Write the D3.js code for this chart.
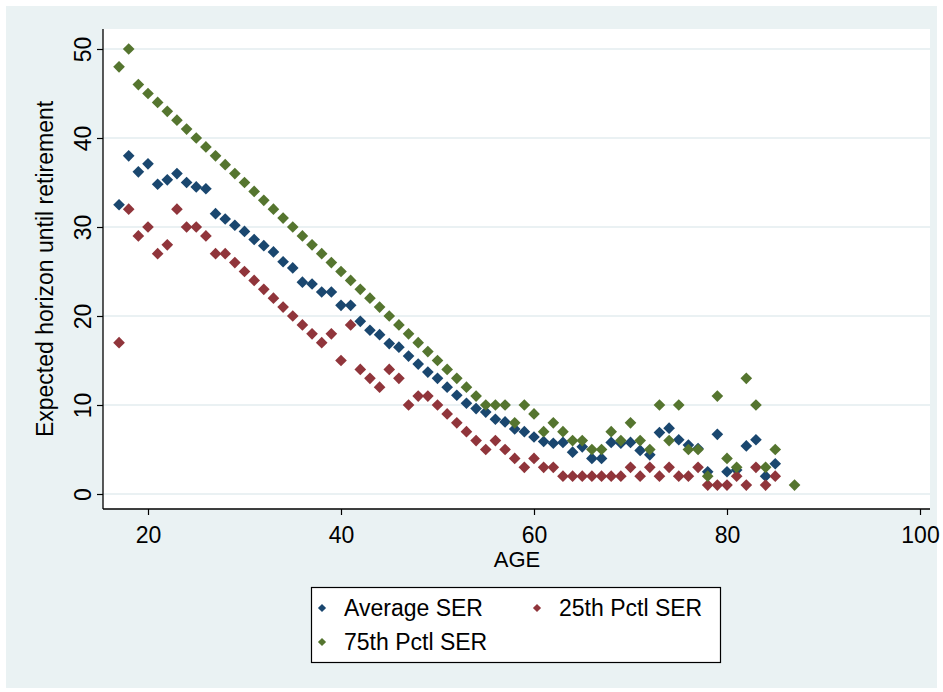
<!DOCTYPE html>
<html>
<head>
<meta charset="utf-8">
<script src="https://cdn.jsdelivr.net/npm/d3@7"></script>
<style>
  body { margin: 0; background: #ffffff; }
  svg { display: block; }
  text { font-family: "Liberation Sans", Arial, sans-serif; fill: #000; }
</style>
</head>
<body>
<svg id="chart" width="943" height="692"></svg>
<script>
// Age of respondent (x axis)
const ages = [17, 18, 19, 20, 21, 22, 23, 24, 25, 26, 27, 28, 29, 30, 31, 32, 33, 34, 35, 36,
              37, 38, 39, 40, 41, 42, 43, 44, 45, 46, 47, 48, 49, 50, 51, 52, 53, 54, 55, 56,
              57, 58, 59, 60, 61, 62, 63, 64, 65, 66, 67, 68, 69, 70, 71, 72, 73, 74, 75, 76,
              77, 78, 79, 80, 81, 82, 83, 84, 85, 86, 87];

// Average subjective expected retirement horizon
const averageSER = [32.5, 38.0, 36.2, 37.1, 34.8, 35.3, 36.0, 35.0, 34.5, 34.3,
                    31.5, 30.9, 30.2, 29.5, 28.6, 27.9, 27.2, 26.1, 25.4, 23.8,
                    23.6, 22.7, 22.7, 21.2, 21.2, 19.4, 18.4, 17.9, 16.9, 16.5,
                    15.5, 14.6, 13.7, 13.0, 12.0, 11.1, 10.2, 9.6, 9.2, 8.4,
                    8.1, 7.3, 7.0, 6.4, 5.9, 5.7, 5.8, 4.7, 5.3, 4.0,
                    4.0, 5.8, 5.7, 5.8, 4.9, 4.4, 6.9, 7.4, 6.1, 5.5,
                    5.1, 2.5, 6.7, 2.5, 2.7, 5.4, 6.1, 2.0, 3.4, null, null];

// 25th percentile
const pctl25SER = [17, 32, 29, 30, 27, 28, 32, 30, 30, 29,
                   27, 27, 26, 25, 24, 23, 22, 21, 20, 19,
                   18, 17, 18, 15, 19, 14, 13, 12, 14, 13,
                   10, 11, 11, 10, 9, 8, 7, 6, 5, 6,
                   5, 4, 3, 4, 3, 3, 2, 2, 2, 2,
                   2, 2, 2, 3, 2, 3, 2, 3, 2, 2,
                   3, 1, 1, 1, 2, 1, 3, 1, 2, null, null];

// 75th percentile
const pctl75SER = [48, 50, 46, 45, 44, 43, 42, 41, 40, 39,
                   38, 37, 36, 35, 34, 33, 32, 31, 30, 29,
                   28, 27, 26, 25, 24, 23, 22, 21, 20, 19,
                   18, 17, 16, 15, 14, 13, 12, 11, 10, 10,
                   10, 8, 10, 9, 7, 8, 7, 6, 6, 5,
                   5, 7, 6, 8, 6, 5, 10, 6, 10, 5,
                   5, 2, 11, 4, 3, 13, 10, 3, 5, null, 1];

const xTicks = [20, 40, 60, 80, 100];
const yTicks = [0, 10, 20, 30, 40, 50];

const seriesNames = ["Average SER", "25th Pctl SER", "75th Pctl SER"];
const seriesColors = ["#1a476f", "#90353b", "#55752f"];
const seriesValues = [averageSER, pctl25SER, pctl75SER];

const svg = d3.select("#chart");
const plot = { left: 103, right: 930, top: 29, bottom: 509 };

// outer graph region
svg.append("rect").attr("x", 6).attr("y", 6).attr("width", 931).attr("height", 682)
  .attr("fill", "#eaf2f3");

// plot region
svg.append("rect").attr("x", plot.left).attr("y", plot.top)
  .attr("width", plot.right - plot.left).attr("height", plot.bottom - plot.top)
  .attr("fill", "#ffffff");

const x = d3.scaleLinear().domain([15.337, 101.036]).range([plot.left, plot.right]);
const y = d3.scaleLinear().domain([-1.685, 52.247]).range([plot.bottom, plot.top]);

// horizontal grid lines
svg.append("g").selectAll("line").data(yTicks).join("line")
  .attr("x1", plot.left).attr("x2", plot.right)
  .attr("y1", d => y(d)).attr("y2", d => y(d))
  .attr("stroke", "#e3edef").attr("stroke-width", 1.6);

// y axis
const yAxis = svg.append("g").attr("transform", `translate(${plot.left},0)`)
  .call(d3.axisLeft(y).tickValues(yTicks).tickSize(6).tickSizeOuter(0).tickFormat(d3.format("d")));
yAxis.select(".domain").attr("d", `M0,${plot.top}V${plot.bottom}`).attr("stroke", "#000").attr("stroke-width", 1.3);
yAxis.selectAll(".tick line").attr("stroke", "#000").attr("stroke-width", 1.2);
yAxis.selectAll(".tick text")
  .attr("x", 0).attr("y", 0).attr("dy", "0.35em")
  .attr("transform", "translate(-20,0) rotate(-90)")
  .attr("text-anchor", "middle")
  .attr("font-size", 23).attr("font-family", "Liberation Sans, Arial, sans-serif");

// x axis
const xAxis = svg.append("g").attr("transform", `translate(0,${plot.bottom})`)
  .call(d3.axisBottom(x).tickValues(xTicks).tickSize(6).tickSizeOuter(0).tickFormat(d3.format("d")));
xAxis.select(".domain").attr("d", `M${plot.left},0H${plot.right}`).attr("stroke", "#000").attr("stroke-width", 1.3);
xAxis.selectAll(".tick line").attr("stroke", "#000").attr("stroke-width", 1.2);
xAxis.selectAll(".tick text")
  .attr("y", 18).attr("dy", "0.71em")
  .attr("font-size", 23).attr("font-family", "Liberation Sans, Arial, sans-serif");

// axis titles
svg.append("text").attr("x", (x(20) + x(100)) / 2 - 17).attr("y", 567)
  .attr("text-anchor", "middle").attr("font-size", 22).text("AGE");
svg.append("text")
  .attr("transform", `translate(53,${(plot.top + plot.bottom) / 2}) rotate(-90)`)
  .attr("text-anchor", "middle").attr("font-size", 23)
  .text("Expected horizon until retirement");

// scatter markers: square diamonds
const diamond = d3.symbol(d3.symbolSquare, 68);
const marks = svg.append("g");
seriesValues.forEach((vals, i) => {
  const pts = ages.map((a, j) => ({ age: a, v: vals[j] })).filter(d => d.v !== null);
  marks.append("g").selectAll("path").data(pts).join("path")
    .attr("d", diamond)
    .attr("transform", d => `translate(${x(d.age)},${y(d.v)}) rotate(45)`)
    .attr("fill", seriesColors[i]);
});

// legend
const lg = svg.append("g");
lg.append("rect").attr("x", 311.5).attr("y", 587.5).attr("width", 409).attr("height", 75)
  .attr("fill", "#ffffff").attr("stroke", "#000").attr("stroke-width", 1.2);
const legendPos = [[322, 608], [537, 608], [322, 642]];
const smallDiamond = d3.symbol(d3.symbolSquare, 34);
seriesNames.forEach((name, i) => {
  const [lx, ly] = legendPos[i];
  lg.append("path").attr("d", smallDiamond)
    .attr("transform", `translate(${lx},${ly}) rotate(45)`)
    .attr("fill", seriesColors[i]);
  lg.append("text").attr("x", lx + 22).attr("y", ly).attr("dy", "0.35em")
    .attr("font-size", 23).text(name);
});
</script>
</body>
</html>
